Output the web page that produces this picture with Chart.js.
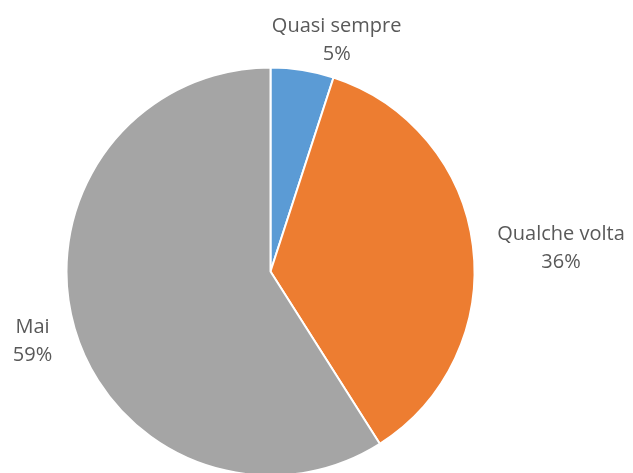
<!DOCTYPE html>
<html lang="it">
<head>
  <meta charset="UTF-8" />
  <title>Frequenza</title>
  <script src="https://cdn.jsdelivr.net/npm/chart.js"></script>
  <style>
    html, body { margin: 0; padding: 0; background: #ffffff; }
    #chart-container { width: 633px; height: 473px; }
  </style>
</head>
<body>
  <div id="chart-container">
    <canvas id="pieChart"></canvas>
  </div>

  <script>
    const categories = ["Quasi sempre", "Qualche volta", "Mai"];
    const percentages = [5, 36, 59];
    const sliceColors = ["#5B9BD5", "#ED7D31", "#A5A5A5"];

    // Two-line labels (name + percent) drawn outside each slice
    const outsideLabels = {
      id: 'outsideLabels',
      afterDatasetsDraw(chart, args, opts) {
        const ctx = chart.ctx;
        const meta = chart.getDatasetMeta(0);
        ctx.save();
        ctx.font = opts.font;
        ctx.fillStyle = opts.color;
        ctx.textAlign = 'center';
        ctx.textBaseline = 'alphabetic';
        meta.data.forEach((arc, i) => {
          const mid = (arc.startAngle + arc.endAngle) / 2;
          const r = arc.outerRadius + opts.gap;
          const px = arc.x + Math.cos(mid) * r;
          const py = arc.y + Math.sin(mid) * r;
          const lines = [categories[i], percentages[i] + '%'];
          const w = Math.max(...lines.map(l => ctx.measureText(l).width));
          const h = opts.lineHeight * 2;
          // push the text block away from the pie so its near edge sits on the anchor
          let cx = px + Math.cos(mid) * w / 2;
          let cy = py + Math.sin(mid) * h / 2;
          const nudge = opts.nudge[i] || [0, 0];
          cx += nudge[0];
          cy += nudge[1];
          ctx.fillText(lines[0], cx, cy - 2);
          ctx.fillText(lines[1], cx, cy + opts.lineHeight - 2);
        });
        ctx.restore();
      }
    };

    const ctx = document.getElementById('pieChart').getContext('2d');
    new Chart(ctx, {
      type: 'pie',
      data: {
        labels: categories,
        datasets: [{
          data: percentages,
          backgroundColor: sliceColors,
          borderColor: '#ffffff',
          borderWidth: 2,
          hoverOffset: 0,
          offset: 0
        }]
      },
      options: {
        responsive: true,
        maintainAspectRatio: false,
        animation: false,
        radius: 204,
        layout: {
          padding: { top: 70, left: 65, right: 157, bottom: 0 }
        },
        plugins: {
          legend: { display: false },
          tooltip: { enabled: false },
          outsideLabels: {
            font: '20px "Open Sans"',
            color: '#595959',
            lineHeight: 28,
            gap: 20,
            nudge: [[21, 11], [5, 2], [-4, -7]]
          }
        }
      },
      plugins: [outsideLabels]
    });
  </script>
</body>
</html>
